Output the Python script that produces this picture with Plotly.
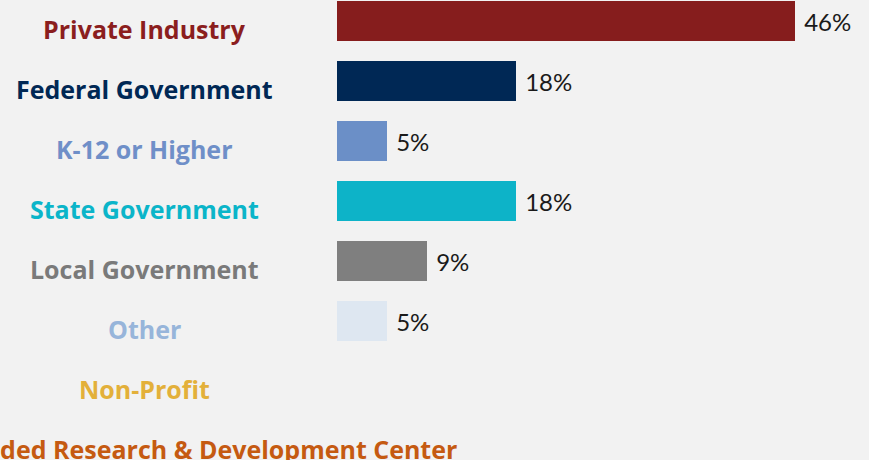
import plotly.graph_objects as go

categories = ["Private Industry", "Federal Government", "K-12 or Higher", "State Government",
              "Local Government", "Other", "Non-Profit",
              "Federally Funded Research & Development Center"]
values = [46, 18, 5, 18, 9, 5, None, None]
bar_colors = ["#861D1D", "#002855", "#6B8FC7", "#0DB3C8", "#7F7F7F", "#DEE7F1", "#E3B03A", "#C55A11"]
label_colors = ["#8B1E1E", "#002855", "#6F8FC8", "#0BB5C9", "#7A7A7A", "#97B5DA", "#E3B03A", "#C55A11"]

texts = [" %d%%" % v if v is not None else "" for v in values]

fig = go.Figure(go.Bar(
    x=values, y=categories, orientation="h",
    marker=dict(color=bar_colors, line=dict(width=0)),
    width=0.667,
    text=texts, textposition="outside", cliponaxis=False,
    textfont=dict(family="Lato", size=24, color="#1a1a1a"),
    hoverinfo="skip",
))

for cat, col in zip(categories, label_colors):
    fig.add_annotation(
        x=-0.361, xref="paper", y=cat, yref="y", xanchor="center", yanchor="middle",
        text="<b>%s</b>" % cat, showarrow=False, yshift=-8,
        font=dict(family="Open Sans", size=25, color=col),
    )

fig.update_layout(
    width=869, height=460,
    margin=dict(l=337, r=0, t=0, b=0),
    paper_bgcolor="#F2F2F2", plot_bgcolor="#F2F2F2",
    showlegend=False, bargap=0,
    xaxis=dict(range=[0, 53.4], visible=False, fixedrange=True),
    yaxis=dict(categoryorder="array", categoryarray=categories,
               range=[7.325, -0.342], visible=False, fixedrange=True),
)

fig.write_html("out.html", config={"displayModeBar": False},
               post_script="document.body.style.margin='0';document.body.style.background='#F2F2F2';")
